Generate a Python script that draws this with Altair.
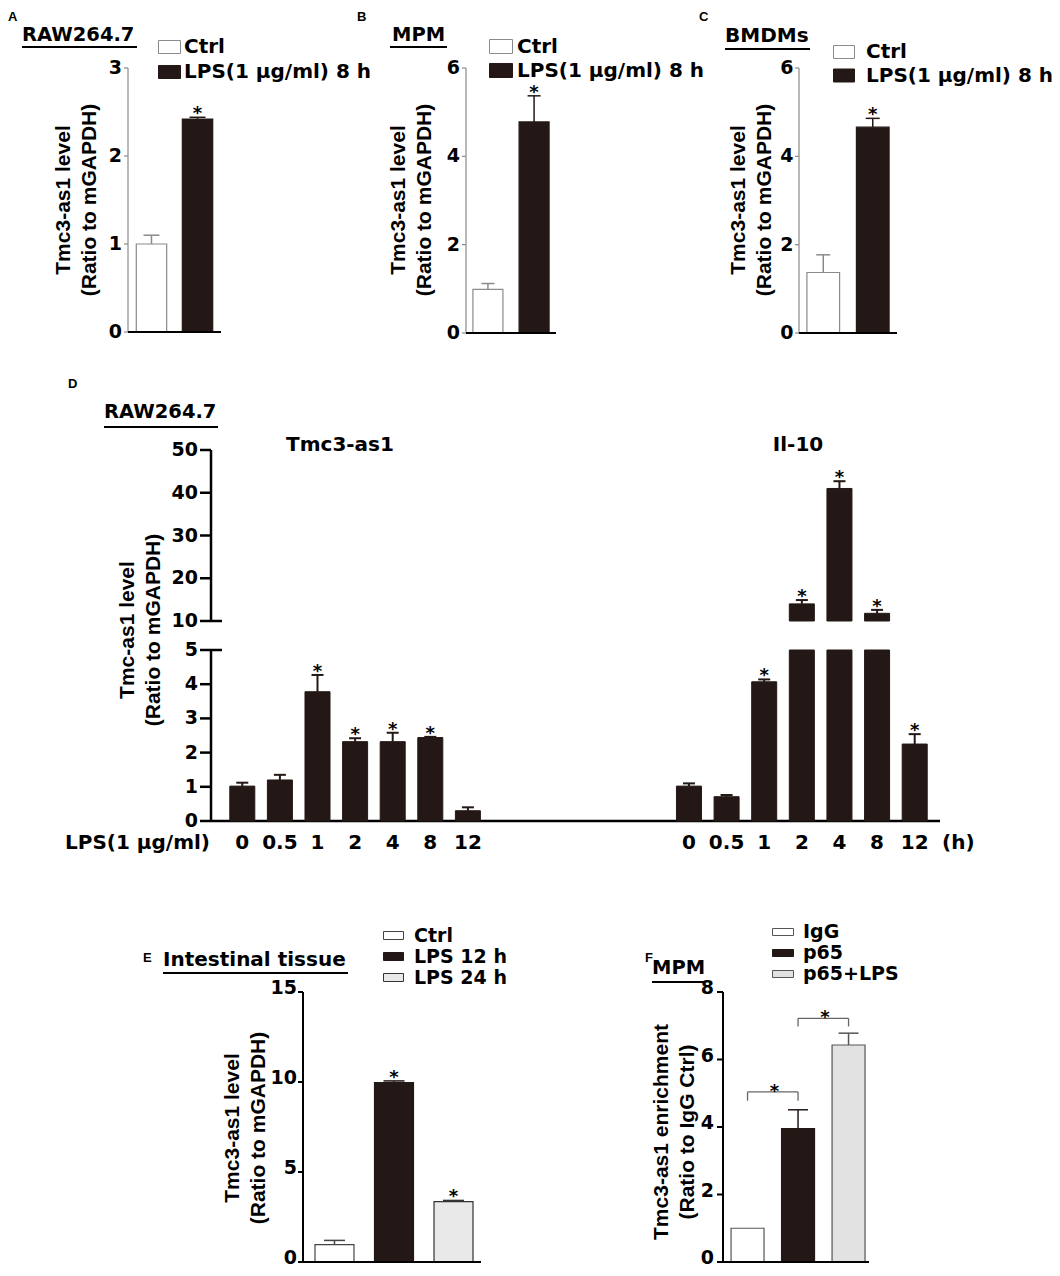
import altair as alt
import pandas as pd

# ---------------- data ----------------
A_groups = ["Ctrl", "LPS(1 µg/ml) 8 h"]
A_mean = [1.00, 2.42]
A_err = [0.10, 0.02]
A_sig = ["", "*"]
A_ticks = [0, 1, 2, 3]

B_groups = ["Ctrl", "LPS(1 µg/ml) 8 h"]
B_mean = [0.99, 4.78]
B_err = [0.13, 0.59]
B_sig = ["", "*"]
B_ticks = [0, 2, 4, 6]

C_groups = ["Ctrl", "LPS(1 µg/ml) 8 h"]
C_mean = [1.37, 4.66]
C_err = [0.40, 0.20]
C_sig = ["", "*"]
C_ticks = [0, 2, 4, 6]

D_times = ["0", "0.5", "1", "2", "4", "8", "12"]
D_tmc_mean = [1.02, 1.20, 3.78, 2.32, 2.32, 2.44, 0.30]
D_tmc_err = [0.10, 0.15, 0.49, 0.10, 0.26, 0.02, 0.10]
D_tmc_sig = ["", "", "*", "*", "*", "*", ""]
D_il_mean = [1.02, 0.71, 4.07, 14.0, 41.0, 11.8, 2.25]
D_il_err = [0.08, 0.05, 0.07, 0.9, 1.7, 0.8, 0.29]
D_il_sig = ["", "", "*", "*", "*", "*", "*"]
D_ticks_low = [0, 1, 2, 3, 4, 5]
D_ticks_high = [10, 20, 30, 40, 50]

E_groups = ["Ctrl", "LPS 12 h", "LPS 24 h"]
E_mean = [0.97, 9.97, 3.35]
E_err = [0.23, 0.09, 0.07]
E_sig = ["", "*", "*"]
E_ticks = [0, 5, 10, 15]

F_groups = ["IgG", "p65", "p65+LPS"]
F_mean = [1.00, 3.95, 6.43]
F_err = [0.00, 0.56, 0.35]
F_sig = ["", "", ""]
F_ticks = [0, 2, 4, 6, 8]
F_cmp_from = ["IgG", "p65"]
F_cmp_to = ["p65", "p65+LPS"]
F_cmp_top = [5.04, 7.22]
F_cmp_leg = [0.26, 0.24]
F_cmp_sig = ["*", "*"]

# ---------------- layout helpers ----------------
W, H = 1044, 1260
HF = "DejaVu Sans"
VF = "Liberation Sans"
DARK = "#231815"
GREY = "#8a8a8a"
one = pd.DataFrame({"k": [0]})


def c(v):
    return v - 8


def y_axis_marks(ys, x_page, ymin, ymax, ticks, color, width, tick_len,
                 label_pad=2, label_size=19, label_dy=0, title=None,
                 title_x=None, title_y=None, domain=True):
    X = c(x_page)
    out = []
    if domain:
        out.append(alt.Chart(one).mark_rule(color=color, strokeWidth=width).encode(
            x=alt.value(X), y=alt.Y(datum=ymin, scale=ys, axis=None),
            y2=alt.datum(ymax)))
    tdf = pd.DataFrame({"tk": ticks})
    out.append(alt.Chart(tdf).mark_rule(color=color, strokeWidth=width).encode(
        x=alt.value(X - tick_len), x2=alt.value(X),
        y=alt.Y("tk:Q", scale=ys, axis=None)))
    out.append(alt.Chart(tdf).mark_text(
        font=HF, fontWeight="bold", fontSize=label_size, align="right",
        baseline="middle", color="black", dy=label_dy).encode(
        x=alt.value(X - tick_len - label_pad),
        y=alt.Y("tk:Q", scale=ys, axis=None), text="tk:N"))
    if title is not None:
        out.append(alt.Chart(one).mark_text(
            text=title, font=VF, fontWeight="bold", fontSize=21, angle=270,
            align="center", baseline="bottom", lineHeight=26,
            color="black").encode(x=alt.value(c(title_x)), y=alt.value(c(title_y))))
    return out


def x_baseline(ys, x0_page, x1_page, width, color="black"):
    return alt.Chart(one).mark_rule(color=color, strokeWidth=width).encode(
        x=alt.value(c(x0_page)), x2=alt.value(c(x1_page)),
        y=alt.Y(datum=0, scale=ys, axis=None))


def legend(x_page, y_center_page, box_w, box_h, gap, row_pad, size=20):
    half = box_h / box_w
    path = f"M-1,-{half:.3f}H1V{half:.3f}H-1Z"
    return alt.Legend(orient="none", legendX=c(x_page),
                      legendY=c(y_center_page) - box_w / 2, title=None,
                      symbolType=path, symbolSize=box_w * box_w,
                      symbolStrokeColor="black", symbolStrokeWidth=1,
                      labelFont=HF, labelFontWeight="bold", labelFontSize=size,
                      labelColor="black", labelOffset=gap,
                      rowPadding=row_pad, labelLimit=400, padding=0)


def note(text, x, y, size=20, align="left", font=HF):
    return alt.Chart(one).mark_text(
        text=text, font=font, fontSize=size, fontWeight="bold", align=align,
        baseline="middle", color="black").encode(x=alt.value(c(x)), y=alt.value(c(y)))


def underline(x1, x2, y):
    return alt.Chart(one).mark_rule(color="black", strokeWidth=2).encode(
        x=alt.value(c(x1)), x2=alt.value(c(x2)), y=alt.value(c(y)))


def bar_panel(groups, mean, err, sig, ticks, fills, strokes, ydom, y0_page,
              ytop_page, axis_page, xend_page, pin, pout, palign, ycolor, yw,
              ytick, ypad, xw, title, title_x, title_y, leg, cap,
              err_w=1.5, bar_w=1.2, label_dy=0):
    df = pd.DataFrame({"g": groups, "v": mean, "e": err, "s": sig})
    base = alt.Chart(df).transform_calculate(hi="datum.v + datum.e")
    xs = alt.Scale(domain=groups, range=[c(axis_page), c(xend_page)],
                   paddingInner=pin, paddingOuter=pout, align=palign)
    ys = alt.Scale(domain=ydom, range=[c(y0_page), c(ytop_page)], nice=False)
    fs = alt.Scale(domain=groups, range=fills)
    ls = alt.Scale(domain=groups, range=strokes)
    axis_layers = y_axis_marks(ys, axis_page, ydom[0], ydom[1], ticks, ycolor, yw,
                               ytick, label_pad=ypad, label_dy=label_dy,
                               title=title, title_x=title_x, title_y=title_y)
    bars = base.mark_bar(strokeWidth=bar_w).encode(
        x=alt.X("g:N", scale=xs, axis=None),
        y=alt.Y("v:Q", scale=ys, axis=None),
        color=alt.Color("g:N", scale=fs, legend=leg),
        stroke=alt.Stroke("g:N", scale=ls, legend=None),
    )
    eb = base.transform_filter("datum.e > 0")
    errs = eb.mark_rule(strokeWidth=err_w).encode(
        x=alt.X("g:N", scale=xs, axis=None),
        y=alt.Y("v:Q", scale=ys, axis=None), y2="hi:Q",
        stroke=alt.Stroke("g:N", scale=ls, legend=None))
    caps = eb.mark_tick(size=cap, thickness=err_w, opacity=1).encode(
        x=alt.X("g:N", scale=xs, axis=None),
        y=alt.Y("hi:Q", scale=ys, axis=None),
        fill=alt.Fill("g:N", scale=ls, legend=None))
    stars = base.transform_filter("datum.s != ''").mark_text(
        font=HF, fontSize=18, fontWeight="bold", baseline="alphabetic", dy=2,
        color="black").encode(
        x=alt.X("g:N", scale=xs, axis=None),
        y=alt.Y("hi:Q", scale=ys, axis=None), text="s:N")
    base_line = x_baseline(ys, axis_page, xend_page, xw)
    layer = alt.layer(*axis_layers, bars, errs, caps, stars, base_line)
    return layer, xs, ys


RATIO = ["Tmc3-as1 level", "(Ratio to mGAPDH)"]

# ---------------- A, B, C ----------------
pA, _, _ = bar_panel(A_groups, A_mean, A_err, A_sig, A_ticks, ["white", DARK],
                     [GREY, DARK], [0, 3], 332, 68, 128, 221, 0.34, 0.18, 0.5,
                     GREY, 1.2, 4, 2, 2, RATIO, 74, 200,
                     legend(158, 46.5, 22, 13, 3, 3), 16)
pB, _, _ = bar_panel(B_groups, B_mean, B_err, B_sig, B_ticks, ["white", DARK],
                     [GREY, DARK], [0, 6], 333, 68, 466, 556, 0.35, 0.15, 0.5,
                     GREY, 1.2, 4, 2, 2, RATIO, 409, 200,
                     legend(489, 46, 23, 14, 4, 2), 13)
pC, _, _ = bar_panel(C_groups, C_mean, C_err, C_sig, C_ticks, ["white", DARK],
                     [GREY, DARK], [0, 6], 333, 68, 799, 897, 0.34, 0.16, 0.5,
                     GREY, 1.2, 4, 1.5, 2, RATIO, 749, 200,
                     legend(833, 51.5, 21, 13, 11, 2.5), 14)

# ---------------- E ----------------
pE, _, _ = bar_panel(E_groups, E_mean, E_err, E_sig, E_ticks,
                     ["white", DARK, "#e9e9e9"], ["#444444", DARK, "#333333"],
                     [0, 15], 1262, 992, 303, 481, 0.345, 0.168, 0.6,
                     "black", 2, 5, 1, 2, RATIO, 243, 1128,
                     legend(383, 935, 20, 8, 10, 0, size=19), 21, label_dy=-4)

# ---------------- F ----------------
pF, xsF, ysF = bar_panel(F_groups, F_mean, F_err, F_sig, F_ticks,
                         ["white", DARK, "#e2e2e2"], ["#555555", DARK, "#555555"],
                         [0, 8], 1262, 992, 723, 869, 0.347, 0.119, 0.67,
                         "black", 2, 6, 3, 2,
                         ["Tmc3-as1 enrichment", "(Ratio to IgG Ctrl)"], 672, 1132,
                         legend(772, 931.5, 21, 7, 9, 0, size=19), 20, label_dy=-4)

cmp = pd.DataFrame({"a": F_cmp_from, "b": F_cmp_to, "top": F_cmp_top,
                    "leg": F_cmp_leg, "s": F_cmp_sig})
cb = alt.Chart(cmp).transform_calculate(low="datum.top - datum.leg")
br_h = cb.mark_rule(color="#666666", strokeWidth=1.3).encode(
    x=alt.X("a:N", scale=xsF, axis=None), x2="b:N",
    y=alt.Y("top:Q", scale=ysF, axis=None))
br_l = cb.mark_rule(color="#666666", strokeWidth=1.3).encode(
    x=alt.X("a:N", scale=xsF, axis=None),
    y=alt.Y("low:Q", scale=ysF, axis=None), y2="top:Q")
br_r = cb.mark_rule(color="#666666", strokeWidth=1.3).encode(
    x=alt.X("b:N", scale=xsF, axis=None),
    y=alt.Y("low:Q", scale=ysF, axis=None), y2="top:Q")
br_s = cb.mark_text(font=HF, fontSize=18, fontWeight="bold", baseline="alphabetic",
                    dy=5, dx=27, color="black").encode(
    x=alt.X("a:N", scale=xsF, axis=None),
    y=alt.Y("top:Q", scale=ysF, axis=None), text="s:N")
pF = alt.layer(pF, br_h, br_l, br_r, br_s)

# ---------------- D (broken axis) ----------------
dT = pd.DataFrame({"t": D_times, "v": D_tmc_mean, "e": D_tmc_err, "s": D_tmc_sig})
dI = pd.DataFrame({"t": D_times, "v": D_il_mean, "e": D_il_err, "s": D_il_sig})

D_AX = 211


def x_tmc():
    return alt.Scale(domain=D_times, range=[c(211), c(536.8)], paddingInner=0.335,
                     paddingOuter=1, align=0.25)


def x_il():
    return alt.Scale(domain=D_times, range=[c(614), c(940)], paddingInner=0.335,
                     paddingOuter=1, align=0.83)


def y_lo():
    return alt.Scale(domain=[0, 5], range=[c(821), c(650)], clamp=True, nice=False)


def y_hi():
    return alt.Scale(domain=[10, 50], range=[c(621), c(450)], nice=False)


def d_marks(df, xs, ys, flt, upper=False, xlabels=False):
    base = alt.Chart(df).transform_calculate(hi="datum.v + datum.e")
    if upper:
        bars = base.transform_filter("datum.v > 10").mark_bar(
            color=DARK, stroke=DARK, strokeWidth=1).encode(
            x=alt.X("t:N", scale=xs, axis=None),
            y=alt.Y("v:Q", scale=ys, axis=None), y2=alt.datum(10))
    else:
        bars = base.mark_bar(color=DARK, stroke=DARK, strokeWidth=1).encode(
            x=alt.X("t:N", scale=xs, axis=None),
            y=alt.Y("v:Q", scale=ys, axis=None))
    eb = base.transform_filter(flt)
    errs = eb.mark_rule(color=DARK, strokeWidth=2).encode(
        x=alt.X("t:N", scale=xs, axis=None),
        y=alt.Y("v:Q", scale=ys, axis=None), y2="hi:Q")
    caps = eb.mark_tick(color=DARK, size=12, thickness=2, opacity=1).encode(
        x=alt.X("t:N", scale=xs, axis=None),
        y=alt.Y("hi:Q", scale=ys, axis=None))
    stars = eb.transform_filter("datum.s != ''").mark_text(
        font=HF, fontSize=18, fontWeight="bold", baseline="alphabetic", dy=2,
        color="black").encode(
        x=alt.X("t:N", scale=xs, axis=None),
        y=alt.Y("hi:Q", scale=ys, axis=None), text="s:N")
    layers = [bars, errs, caps, stars]
    if xlabels:
        layers.append(alt.Chart(df).mark_text(
            font=HF, fontSize=20, fontWeight="bold", baseline="middle",
            color="black").encode(
            x=alt.X("t:N", scale=xs, axis=None), y=alt.value(c(843)), text="t:N"))
    return layers


def break_tick(ys, val):
    return alt.Chart(one).mark_rule(color="black", strokeWidth=2.5).encode(
        x=alt.value(c(D_AX)), x2=alt.value(c(D_AX) + 11),
        y=alt.Y(datum=val, scale=ys, axis=None))


yl = y_lo()
yh = y_hi()
D1 = alt.layer(
    *y_axis_marks(yl, D_AX, 0, 5, D_ticks_low, "black", 2.5, 11, label_pad=2,
                  title=["Tmc-as1 level", "(Ratio to mGAPDH)"], title_x=138,
                  title_y=630),
    break_tick(yl, 5),
    x_baseline(yl, D_AX, 940, 2.5),
    *d_marks(dT, x_tmc(), yl, "datum.v <= 5", xlabels=True),
)
D2 = alt.layer(*d_marks(dI, x_il(), y_lo(), "datum.v <= 5", xlabels=True))
D3 = alt.layer(
    *y_axis_marks(yh, D_AX, 10, 50, D_ticks_high, "black", 2.5, 11, label_pad=2),
    break_tick(yh, 10),
    *d_marks(dI, x_il(), yh, "datum.v > 10", upper=True),
)

# ---------------- annotations ----------------
notes = [
    note("A", 8, 17, size=13, font=VF),
    note("B", 357, 17, size=13, font=VF),
    note("C", 699, 17, size=13, font=VF),
    note("D", 68, 384, size=13, font=VF),
    note("E", 143, 958, size=13, font=VF),
    note("F", 645, 958, size=13, font=VF),
    note("RAW264.7", 22, 35, size=19.5), underline(22, 137, 47),
    note("MPM", 392, 35, size=19.5), underline(390, 447, 47),
    note("BMDMs", 725, 36, size=20), underline(725, 810, 49),
    note("RAW264.7", 104, 412, size=19.5), underline(104, 218, 427),
    note("Tmc3-as1", 340, 445, size=20, align="center"),
    note("Il-10", 798, 445, size=20, align="center"),
    note("LPS(1 µg/ml)", 210, 843, size=20, align="right"),
    note("(h)", 942, 843, size=20),
    note("Intestinal tissue", 163, 960, size=20), underline(163, 348, 973),
    note("MPM", 652, 968, size=19.5), underline(652, 706, 982),
]

chart = alt.layer(pA, pB, pC, D1, D2, D3, pE, pF, *notes).resolve_scale(
    x="independent", y="independent", color="independent",
    stroke="independent", fill="independent"
).properties(
    width=W, height=H, padding=0,
    autosize=alt.AutoSizeParams(type="none"),
).configure_view(strokeWidth=0)

chart.save("out.html", embed_options={"renderer": "svg", "actions": False})
